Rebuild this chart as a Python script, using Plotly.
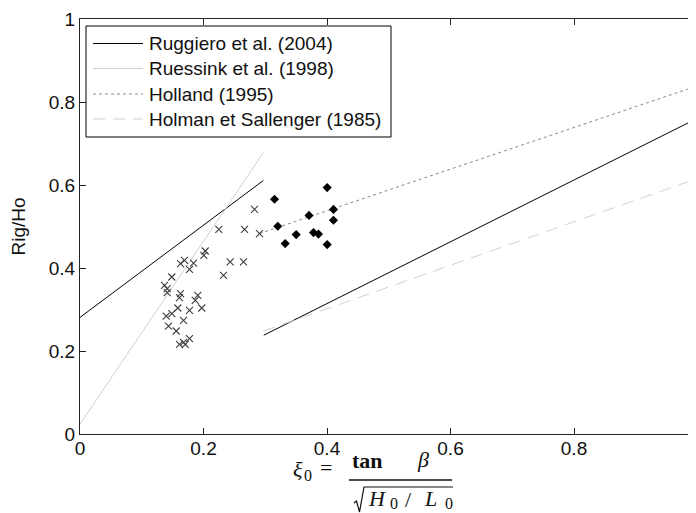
import plotly.graph_objects as go

# ---- data ----
# Model lines (xi0 -> Rig/Ho)
ruggiero_x = [0.0, 0.297, None, 0.2976, 1.0]
ruggiero_y = [0.281, 0.611, None, 0.238, 0.761]
ruessink_x = [0.0, 0.297]
ruessink_y = [0.024, 0.678]
holland_x = [0.2907, 1.0]
holland_y = [0.483, 0.839]
holman_x = [0.297, 1.0]
holman_y = [0.248, 0.616]

# Observations (crosses)
cross_x = [0.2826, 0.2248, 0.2664, 0.2907, 0.2028, 0.2005, 0.1692, 0.1628, 0.1838,
           0.1773, 0.2432, 0.2648, 0.2324, 0.1487, 0.1368, 0.1412, 0.1412, 0.1628,
           0.1611, 0.1908, 0.1866, 0.1584, 0.1972, 0.1773, 0.1396, 0.1487, 0.1676,
           0.1433, 0.1558, 0.1773, 0.1611, 0.1704, 0.1676]
cross_y = [0.5414, 0.4933, 0.4933, 0.4829, 0.4410, 0.4306, 0.4186, 0.4106, 0.4120,
           0.3969, 0.4145, 0.4145, 0.3824, 0.3783, 0.3583, 0.3504, 0.3407, 0.3383,
           0.3287, 0.3342, 0.3222, 0.3036, 0.3036, 0.2981, 0.2843, 0.2901, 0.2740,
           0.2602, 0.2482, 0.2299, 0.2161, 0.2161, 0.2210]

# Observations (diamonds)
diam_x = [0.4003, 0.3150, 0.3709, 0.4105, 0.3203, 0.3862, 0.4105, 0.3501, 0.3781,
          0.3323, 0.4003]
diam_y = [0.5937, 0.5655, 0.5267, 0.5412, 0.5005, 0.4817, 0.5149, 0.4805, 0.4853,
          0.4588, 0.4564]

tick_vals = [0, 0.2, 0.4, 0.6, 0.8, 1]
tick_text = ["0", "0.2", "0.4", "0.6", "0.8", "1"]

series_names = ["Ruggiero et al. (2004)", "Ruessink et al. (1998)",
                "Holland (1995)", "Holman et Sallenger (1985)"]

# ---- styles ----
OFF = 8                       # page body margin of the browser
W, H = 696 - OFF, 513 - OFF
ML, MR, MT, MB = 72, 0, 11, 79
PW, PH = W - ML - MR, H - MT - MB
FONT = "Liberation Sans, Arial, sans-serif"
SERIF = "Liberation Serif, Times New Roman, serif"
TXT = "#111111"
AX = "#222222"

styles = [
    dict(color="#000000", width=1),
    dict(color="#d4d1ca", width=1),
    dict(color="#8a8a8a", width=1, dash="3px,3px"),
    dict(color="#d4d1ca", width=1, dash="12px,8px"),
]
line_data = [(ruggiero_x, ruggiero_y), (ruessink_x, ruessink_y),
             (holland_x, holland_y), (holman_x, holman_y)]

fig = go.Figure()
for (lx, ly), nm, st in zip(line_data, series_names, styles):
    fig.add_trace(go.Scatter(x=lx, y=ly, mode="lines", name=nm, line=st,
                             showlegend=False))
fig.add_trace(go.Scatter(x=cross_x, y=cross_y, mode="markers", showlegend=False,
                         marker=dict(symbol="x-thin", size=7,
                                     line=dict(color="#3f3f3f", width=1.1))))
fig.add_trace(go.Scatter(x=diam_x, y=diam_y, mode="markers", showlegend=False,
                         marker=dict(symbol="diamond", size=7, color="#000000",
                                     line=dict(width=0))))
# invisible trace carrying the right-hand ticks
fig.add_trace(go.Scatter(x=[None], y=[None], yaxis="y2", showlegend=False,
                         hoverinfo="skip"))

x_max = PW / 617.5

axis_common = dict(ticks="inside", ticklen=6, tickwidth=1, tickcolor=AX,
                   showline=True, linecolor=AX, linewidth=1,
                   showgrid=False, zeroline=False,
                   tickfont=dict(family=FONT, size=19, color=TXT))

fig.update_layout(
    width=W, height=H,
    margin=dict(l=ML, r=MR, t=MT, b=MB, pad=0),
    paper_bgcolor="white", plot_bgcolor="white",
    showlegend=False,
    xaxis=dict(range=[0, x_max], tickvals=tick_vals, ticktext=tick_text,
               mirror="ticks", ticklabelstandoff=-3, **axis_common),
    yaxis=dict(range=[0, 1], tickvals=tick_vals, ticktext=tick_text,
               mirror=False,
               title=dict(text="Rig/Ho", standoff=21,
                          font=dict(family=FONT, size=19, color=TXT)),
               **axis_common),
    yaxis2=dict(range=[0, 1], overlaying="y", side="right", tickvals=tick_vals,
                showticklabels=False, ticks="inside", ticklen=6, tickwidth=1,
                tickcolor=AX, showline=False, showgrid=False, zeroline=False),
)


# helpers: reference-picture pixel -> paper coordinates
def px(xp):
    return (xp - OFF - ML) / PW


def py(yp):
    return (MT + PH - (yp - OFF)) / PH


# ---- legend box (drawn by hand to match the original spacing) ----
fig.add_shape(type="rect", xref="paper", yref="paper",
              x0=px(86), x1=px(391), y0=py(26), y1=py(137),
              line=dict(color="#000000", width=1), fillcolor="white", layer="above")
row_y = [43.5, 68.5, 94.0, 119.0]
for nm, st, ry in zip(series_names, styles, row_y):
    fig.add_shape(type="line", xref="paper", yref="paper",
                  x0=px(93), x1=px(143), y0=py(ry), y1=py(ry),
                  line=st, layer="above")
    fig.add_annotation(x=px(147), y=py(ry), xref="paper", yref="paper",
                       text=nm, showarrow=False, xanchor="left", yanchor="middle",
                       font=dict(family=FONT, size=19, color=TXT))

# ---- x-axis label: xi_0 = tan(beta) / sqrt(H0/L0) ----
def label(text, x, y, size=22):
    fig.add_annotation(x=px(x), y=py(y), xref="paper", yref="paper", text=text,
                       showarrow=False, xanchor="center", yanchor="middle",
                       font=dict(family=SERIF, size=size, color=TXT))


label("<i>ξ</i>", 297.5, 469)
label("0", 308, 475, 16)
label("=", 326, 467)
label("<b>tan</b>", 367.5, 460)
label("<i>β</i>", 423, 459)
label("<i>H</i>", 377, 498)
label("0", 393.5, 503, 16)
label("/", 408.5, 499)
label("<i>L</i>", 430, 498)
label("0", 449, 503, 16)

# fraction bar
fig.add_shape(type="line", xref="paper", yref="paper",
              x0=px(349), x1=px(452), y0=py(480), y1=py(480),
              line=dict(color=TXT, width=1.3))
# radical sign
fig.add_shape(type="path", xref="paper", yref="paper",
              path=(f"M {px(354)} {py(503)} L {px(356.5)} {py(501)} "
                    f"L {px(359.5)} {py(512)} L {px(364)} {py(487)} L {px(453)} {py(487)}"),
              line=dict(color=TXT, width=1.2))

fig.write_html("out.html")
